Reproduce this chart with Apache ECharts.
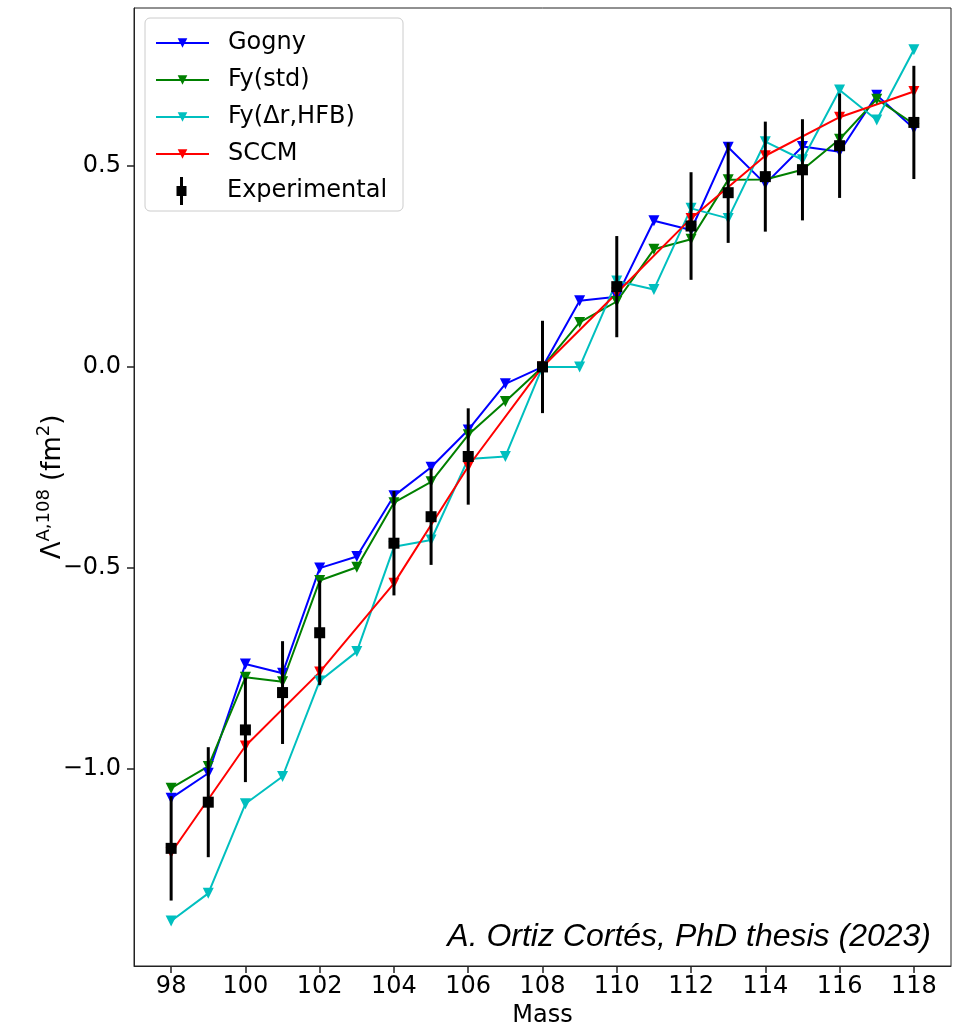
<!DOCTYPE html>
<html>
<head>
<meta charset="utf-8">
<script src="https://cdn.jsdelivr.net/npm/echarts@6/dist/echarts.min.js"></script>
<style>
  html, body { margin: 0; padding: 0; background: #fff; }
  #chart { width: 961px; height: 1026px; }
</style>
</head>
<body>
<div id="chart"></div>
<script>
// mass numbers and isotope shifts relative to A=108
const masses = [98, 99, 100, 101, 102, 103, 104, 105, 106, 107, 108, 109, 110, 111, 112, 113, 114, 115, 116, 117, 118]
const gogny = [-1.074, -1.012, -0.740, -0.763, -0.501, -0.472, -0.321, -0.250, -0.157, -0.042, 0, 0.165, 0.175, 0.364, 0.341, 0.547, 0.456, 0.549, 0.536, 0.677, 0.594]
const fyStd = [-1.049, -0.995, -0.773, -0.784, -0.532, -0.499, -0.338, -0.286, -0.169, -0.086, 0, 0.111, 0.163, 0.293, 0.318, 0.466, 0.467, 0.491, 0.567, 0.667, 0.605]
const fyHfb = [-1.380, -1.311, -1.088, -1.020, -0.782, -0.709, -0.448, -0.431, -0.229, -0.223, 0, 0.000, 0.214, 0.193, 0.395, 0.370, 0.561, 0.516, 0.690, 0.615, 0.790]

const sccmMasses = [98, 100, 102, 104, 106, 108, 110, 112, 114, 116, 118]
const sccm = [-1.210, -0.944, -0.760, -0.539, -0.248, 0, 0.184, 0.370, 0.526, 0.622, 0.686]

const expMasses = [98, 99, 100, 101, 102, 104, 105, 106, 108, 110, 112, 113, 114, 115, 116, 118]
const expVal = [-1.199, -1.084, -0.904, -0.811, -0.662, -0.439, -0.373, -0.223, 0, 0.200, 0.351, 0.434, 0.474, 0.491, 0.551, 0.609]
const expErr = [0.130, 0.137, 0.130, 0.128, 0.130, 0.130, 0.120, 0.120, 0.115, 0.126, 0.134, 0.125, 0.137, 0.126, 0.130, 0.141]

const xTicks = [98, 100, 102, 104, 106, 108, 110, 112, 114, 116, 118]
const yTicks = [-1.0, -0.5, 0.0, 0.5]

const FONT = 'DejaVu Sans'

const pairs = (xs, ys) => xs.map((x, i) => [x, ys[i]])

const lineSeries = (name, color, xs, ys) => ({
  name: name,
  type: 'line',
  data: pairs(xs, ys),
  symbol: 'triangle',
  symbolRotate: 180,
  symbolSize: 11,
  lineStyle: { color: color, width: 2 },
  itemStyle: { color: color },
  z: 2
})

// errorbar legend icon: bar + square, padded to the item width so it sits centred
const errIcon = 'path://M0,14 L0.01,14 Z M53,14 L52.99,14 Z M25,0 h3 v9 h3.5 v10 h-3.5 v9 h-3 v-9 h-3.5 v-10 h3.5 z'

const chart = echarts.init(document.getElementById('chart'))

const option = {
  animation: false,
  backgroundColor: '#fff',
  grid: {
    left: 134,
    right: 10,
    top: 8,
    bottom: 60,
    outerBoundsMode: 'none',
    show: true,
    borderColor: '#222',
    borderWidth: 1
  },
  legend: [
    {
      left: 155,
      top: 30,
      z: 10,
      orient: 'vertical',
      padding: 0,
      itemWidth: 53,
      itemHeight: 12,
      itemGap: 11,
      textStyle: { fontFamily: FONT, fontSize: 24, color: '#000', lineHeight: 26, padding: [0, 0, 0, 14] },
      data: ['Gogny', 'Fy(std)', 'Fy(Δr,HFB)', 'SCCM']
    },
    {
      left: 155,
      top: 177,
      z: 10,
      orient: 'vertical',
      padding: 0,
      itemWidth: 53,
      itemHeight: 28,
      textStyle: { fontFamily: FONT, fontSize: 24, color: '#000', lineHeight: 28, padding: [0, 0, 0, 14] },
      data: [{ name: 'Experimental', icon: errIcon }]
    }
  ],
  graphic: [
    {
      type: 'rect',
      shape: { x: 145, y: 18, width: 258, height: 193, r: 5 },
      style: { fill: '#fff', stroke: '#cccccc', lineWidth: 1 },
      z: 1
    },
    {
      type: 'text',
      right: 961 - 931,
      top: 921,
      style: {
        text: 'A. Ortiz Cortés, PhD thesis (2023)',
        font: 'italic 32px "Liberation Sans", Arial, sans-serif',
        fill: '#000'
      },
      z: 5
    }
  ],
  xAxis: {
    type: 'value',
    min: 97,
    max: 119,
    name: 'Mass',
    nameLocation: 'middle',
    nameGap: 38,
    nameMoveOverlap: false,
    nameTextStyle: { fontFamily: FONT, fontSize: 24, color: '#000' },
    axisLine: { show: true, onZero: false, lineStyle: { color: '#222', width: 1 } },
    axisTick: { show: true, length: 7, customValues: xTicks, lineStyle: { color: '#222', width: 1.5 } },
    axisLabel: { customValues: xTicks, margin: 9, fontFamily: FONT, fontSize: 24, color: '#000' },
    splitLine: { show: false }
  },
  yAxis: {
    type: 'value',
    min: -1.492,
    max: 0.894,
    name: '{b|Λ}{sup|A,108}{b| (fm}{sup|2}{b|)}',
    nameLocation: 'middle',
    nameRotate: 90,
    nameGap: 68,
    nameMoveOverlap: false,
    nameTextStyle: {
      fontFamily: FONT,
      color: '#000',
      rich: {
        b: { fontFamily: FONT, fontSize: 26, color: '#000', lineHeight: 32, verticalAlign: 'bottom' },
        sup: { fontFamily: FONT, fontSize: 18, color: '#000', lineHeight: 32, verticalAlign: 'top', padding: [1, 0, 0, 0] }
      }
    },
    axisLine: { show: true, onZero: false, lineStyle: { color: '#222', width: 1 } },
    axisTick: { show: true, length: 7, customValues: yTicks, lineStyle: { color: '#222', width: 1.5 } },
    axisLabel: {
      customValues: yTicks,
      margin: 13,
      fontFamily: FONT,
      fontSize: 24,
      color: '#000',
      formatter: (v) => (v < 0 ? '\u2212' + Math.abs(v).toFixed(1) : v.toFixed(1))
    },
    splitLine: { show: false }
  },
  series: [
    lineSeries('Gogny', '#0000ff', masses, gogny),
    lineSeries('Fy(std)', '#008000', masses, fyStd),
    lineSeries('Fy(Δr,HFB)', '#00bfbf', masses, fyHfb),
    lineSeries('SCCM', '#ff0000', sccmMasses, sccm),
    {
      name: 'errbar',
      type: 'custom',
      data: expMasses.map((m, i) => [m, expVal[i], expErr[i]]),
      encode: { x: 0, y: 1 },
      renderItem: (params, api) => {
        const x = api.value(0)
        const y = api.value(1)
        const e = api.value(2)
        const top = api.coord([x, y + e])
        const bot = api.coord([x, y - e])
        return {
          type: 'line',
          shape: { x1: top[0], y1: top[1], x2: bot[0], y2: bot[1] },
          style: { stroke: '#000', lineWidth: 3 }
        }
      },
      z: 3
    },
    {
      name: 'Experimental',
      type: 'scatter',
      data: pairs(expMasses, expVal),
      symbol: 'rect',
      symbolSize: 11,
      itemStyle: { color: '#000', opacity: 1 },
      z: 4
    }
  ]
}

chart.setOption(option)
</script>
</body>
</html>
